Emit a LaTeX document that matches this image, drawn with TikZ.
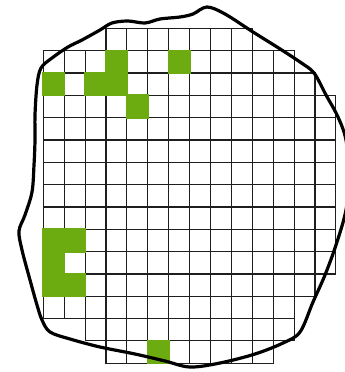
\documentclass[tikz,border=0pt]{standalone}
\usetikzlibrary{calc}
\definecolor{leaf}{RGB}{108,172,16}
\definecolor{gridc}{RGB}{30,30,30}
\tikzset{
  cellbox/.style={draw=gridc,line width=1.15pt},
  greencell/.style={fill=leaf},
  outline/.style={draw=black,line width=3.2pt,line join=round}
}
\begin{document}
\begin{tikzpicture}[x=1pt,y=-1pt]
\useasboundingbox (0,0) rectangle (345,372);
\fill[white] (0,0) rectangle (345,372);
% grid rows: row/first col/last col
\foreach \r/\a/\b in {0/3/9,1/0/11,2/0/12,3/0/13,4/0/13,5/0/13,6/0/13,7/0/13,8/0/13,9/0/13,10/0/13,11/0/12,12/0/11,13/2/11,14/3/10}{
  \foreach \c in {\a,...,\b}{
    \draw[cellbox] ({43.3+20.9*\c},{28.3+22.33*\r}) rectangle ++(20.9,22.33);
  }
}
% green cells: col/row
\foreach \c/\r in {0/2,2/2,3/2,3/1,4/3,6/1,0/9,1/9,0/10,0/11,1/11,5/14}{
  \fill[greencell] ({43.3+20.9*\c-1},{28.3+22.33*\r-1}) rectangle ++(22.9,24.3);
}
% outline
\draw[outline] plot[smooth cycle,tension=0.55] coordinates {
(207,7) (225,14) (253,32) (277,47) (300,62) (314,73) (326,95) (338,117) (346,140) (349,175) (346,210) (336,245) (325,275) (313,302) (300,332) (283,343) (255,354) (220,363) (190,367) (165,361) (135,354) (100,347) (70,339) (50,332) (42,320) (37,305) (30,280) (22,250) (19,231) (25,215) (32,192) (34,165) (35,140) (35,115) (37,85) (41,68) (52,58) (68,47) (82,40) (100,30) (112,23) (128,21) (145,23) (160,19) (180,17) (193,14)
};
\end{tikzpicture}
\end{document}
